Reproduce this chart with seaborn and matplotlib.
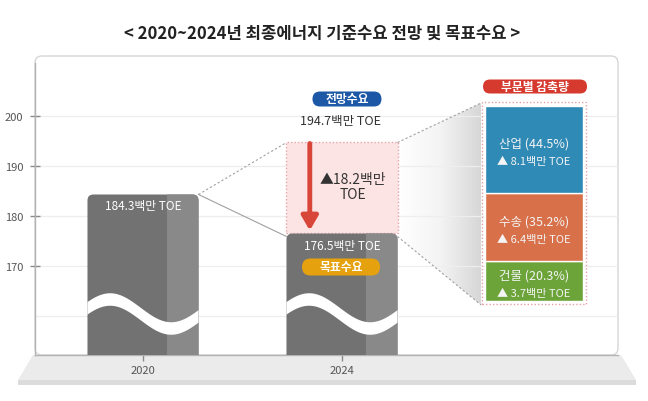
import numpy as np
import pandas as pd
import matplotlib
matplotlib.use("Agg")
import matplotlib.pyplot as plt
import seaborn as sns
from matplotlib.patches import FancyBboxPatch, Rectangle, Polygon
from matplotlib.colors import LinearSegmentedColormap

# ---------------- data ----------------
years = ["2020", "2024"]
demand = [184.3, 176.5]          # 최종에너지 수요 (백만 TOE)
baseline_2024 = 194.7            # 2024 전망수요
target_2024 = 176.5              # 2024 목표수요
sectors = ["산업", "수송", "건물"]
sector_share = [44.5, 35.2, 20.3]
sector_cut = [8.1, 6.4, 3.7]
sector_colors = ["#2f8ab6", "#d8704a", "#6ca43a"]
yticks = [170, 180, 190, 200]
title = "< 2020~2024년 최종에너지 기준수요 전망 및 목표수요 >"

# ---------------- style ----------------
sns.set_theme(style="white")
plt.rcParams['font.family'] = ['Noto Sans CJK KR', 'DejaVu Sans']

W, H = 648, 402
fig = plt.figure(figsize=(6.48, 4.02), dpi=100)

# background decoration axes (pixel space)
bg = fig.add_axes([0, 0, 1, 1], zorder=0)
bg.set_xlim(0, W)
bg.set_ylim(H, 0)
bg.axis('off')
L, R, T, B = 35, 618, 57, 356
bg.add_patch(FancyBboxPatch((L, T), R - L, B - T, boxstyle="round,pad=0,rounding_size=7",
                            fc="white", ec="#d6d6d6", lw=1))
bg.add_patch(Polygon([(33, B), (621, B), (636, 381), (18, 381)], closed=True, fc="#ebebeb", ec="none"))
bg.add_patch(Polygon([(18, 381), (636, 381), (636, 386), (18, 386)], closed=True, fc="#dcdcdc", ec="none"))
bg.text(322, 34, title, ha="center", va="center", fontsize=12, fontweight="bold", color="#222222")

# main data axes
ax = fig.add_axes([L / W, 1 - B / H, (R - L) / W, (B - T) / H], zorder=1)
ax.patch.set_alpha(0)

df = pd.DataFrame({"year": years, "demand": demand})
sns.barplot(data=df, x="year", y="demand", color="#727272", saturation=1,
            width=0.558, ax=ax, zorder=3)

XMIN, XMAX = -0.5427, 2.387
YMIN, YMAX = 152.2, 212.0
ASP = 199 / 5  # x-unit/y-unit pixel ratio

bars = [p for p in ax.patches]
rounded = []
for p in bars:
    x0, y0, w, h = p.get_x(), p.get_y(), p.get_width(), p.get_height()
    rp = FancyBboxPatch((x0, y0), w, h, boxstyle="round,pad=0,rounding_size=0.03",
                        mutation_aspect=ASP, fc="#727272", ec="none", zorder=3)
    ax.add_patch(rp)
    p.set_visible(False)
    rounded.append(rp)
    strip = Rectangle((x0 + w * 0.72, y0), w * 0.28, h, fc="#898989", ec="none", zorder=3.1)
    ax.add_patch(strip)
    strip.set_clip_path(rp)
    t = np.linspace(-0.05, 1.05, 300)
    xc = x0 + t * w
    vc = 160.5 + 2.9 * np.cos(2 * np.pi * (t - 0.2) / 1.1)
    wave = ax.fill_between(xc, vc - 1.25, vc + 1.25, color="white", lw=0, zorder=3.2)
    wave.set_clip_path(rp)

b0, b1 = bars
x20r = b0.get_x() + b0.get_width()
x24l = b1.get_x()
x24r = b1.get_x() + b1.get_width()
w24 = b1.get_width()
c20 = b0.get_x() + b0.get_width() / 2
c24 = b1.get_x() + w24 / 2

# pink reduction box
ax.add_patch(Rectangle((x24l, target_2024), w24, baseline_2024 - target_2024,
                       fc="#fde4e4", ec="#e8a3aa", lw=1, ls=(0, (1, 1.5)), zorder=2))

# red arrow
xa = x24l + w24 * 0.21
ax.annotate("", xy=(xa, target_2024 + 0.6), xytext=(xa, baseline_2024 - 0.2),
            arrowprops=dict(arrowstyle="-|>,head_width=0.35,head_length=0.6", lw=3.5,
                            color="#d8463a", shrinkA=0, shrinkB=0, mutation_scale=14),
            zorder=4)
delta = baseline_2024 - target_2024
ax.text(c24 + 0.055, (baseline_2024 + target_2024) / 2 + 0.3, f"▲{delta:.1f}백만\nTOE",
        ha="center", va="center", fontsize=10, color="#333333", linespacing=1.05, zorder=5)

# connectors 2020 -> 2024
ax.plot([x20r, x24l], [demand[0], baseline_2024], color="#a0a0a0", lw=0.8, ls=(0, (2, 2)), zorder=2)
ax.plot([x20r, x24l], [demand[0], target_2024 - 0.6], color="#a0a0a0", lw=0.8, zorder=2)

# sector stacked box
sx, sw = 1.965, 0.492
base = 163.0
total_h = 39.0
scale = total_h / sum(sector_cut)
bottom = base
for name, share, cut, col in reversed(list(zip(sectors, sector_share, sector_cut, sector_colors))):
    hgt = cut * scale
    ax.bar(sx, hgt, bottom=bottom, width=sw, color=col, zorder=3)
    mid = bottom + hgt / 2
    ax.text(sx, mid + 1.3, f"{name} ({share}%)", ha="center", va="center",
            fontsize=9, color="#f4f4f4", zorder=5)
    ax.text(sx, mid - 2.3, f"▲ {cut}백만 TOE", ha="center", va="center",
            fontsize=8, color="#f4f4f4", zorder=5)
    bottom += hgt
top = base + total_h
ax.add_patch(Rectangle((sx - sw / 2 - 0.015, base - 0.7), sw + 0.03, total_h + 1.4, fill=False,
                       ec="#e6a0a8", lw=1, ls=(0, (1, 1.5)), zorder=3.5))

# connectors 2024 -> sector box with gradient
xl, xr = x24r, sx - sw / 2 - 0.02
pts = [(xl, baseline_2024), (xr, top + 0.6), (xr, base - 0.8), (xl, target_2024 - 0.6)]
cmap = LinearSegmentedColormap.from_list("g", ["#ffffff", "#f4f4f4", "#d6d6d6"])
grad = np.linspace(0, 1, 256).reshape(1, -1)
im = ax.imshow(grad, extent=[xl, xr, base - 2, top + 2], cmap=cmap, aspect="auto",
               zorder=0.3, interpolation="bicubic")
poly = Polygon(pts, closed=True, transform=ax.transData)
im.set_clip_path(poly)
ax.plot([pts[0][0], pts[1][0]], [pts[0][1], pts[1][1]], color="#a0a0a0", lw=0.8, ls=(0, (2, 2)), zorder=2)
ax.plot([pts[3][0], pts[2][0]], [pts[3][1], pts[2][1]], color="#a0a0a0", lw=0.8, ls=(0, (2, 2)), zorder=2)


def pill(cx, cy, wpx, hpx, color, text, fs):
    wd, hd = wpx / 199, hpx / 5
    ax.add_patch(FancyBboxPatch((cx - wd / 2, cy - hd / 2), wd, hd,
                                boxstyle=f"round,pad=0,rounding_size={hpx / 2 / 199}",
                                mutation_aspect=ASP, fc=color, ec="none", zorder=5))
    ax.text(cx, cy, text, ha="center", va="center", color="white", fontsize=fs,
            fontweight="bold", zorder=6)


# labels
ax.text(c20, demand[0] - 2.2, f"{demand[0]}백만 TOE", ha="center", va="center",
        fontsize=8.5, color="white", zorder=5)
ax.text(c24, target_2024 - 2.5, f"{target_2024}백만 TOE", ha="center", va="center",
        fontsize=8.5, color="white", zorder=5)
ax.text(c24 - 0.01, baseline_2024 + 4.3, f"{baseline_2024}백만 TOE", ha="center", va="center",
        fontsize=9, color="#333333", zorder=5)
pill(c24 + 0.025, baseline_2024 + 8.7, 69, 15, "#1d58a6", "전망수요", 8.5)
pill(c24 - 0.005, target_2024 - 6.7, 78, 17, "#e6a10e", "목표수요", 8.5)
pill(sx + 0.005, top + 3.9, 104, 14, "#d6392d", "부문별 감축량", 8.5)

# axes styling
ax.set_xlim(XMIN, XMAX)
ax.set_ylim(YMIN, YMAX)
ax.set_yticks(yticks)
ax.set_xlabel("")
ax.set_ylabel("")
ax.set_axisbelow(True)
ax.yaxis.grid(True, color="#eeeeee", lw=0.9)
ax.axhline(160, color="#eeeeee", lw=0.9, zorder=0.5)
ax.tick_params(axis="y", left=True, direction="inout", length=7, width=1, color="#8a8a8a",
               labelcolor="#555555", labelsize=8, pad=5)
ax.tick_params(axis="x", bottom=True, direction="out", length=4, width=1, color="#8a8a8a",
               labelcolor="#555555", labelsize=8, pad=3)
for s in ["top", "right"]:
    ax.spines[s].set_visible(False)
for s in ["left", "bottom"]:
    ax.spines[s].set_color("#b3b3b3")
    ax.spines[s].set_linewidth(1)
ax.spines["left"].set_bounds(YMIN, YMAX - 1.4)

fig.savefig("out.png", dpi=100)
